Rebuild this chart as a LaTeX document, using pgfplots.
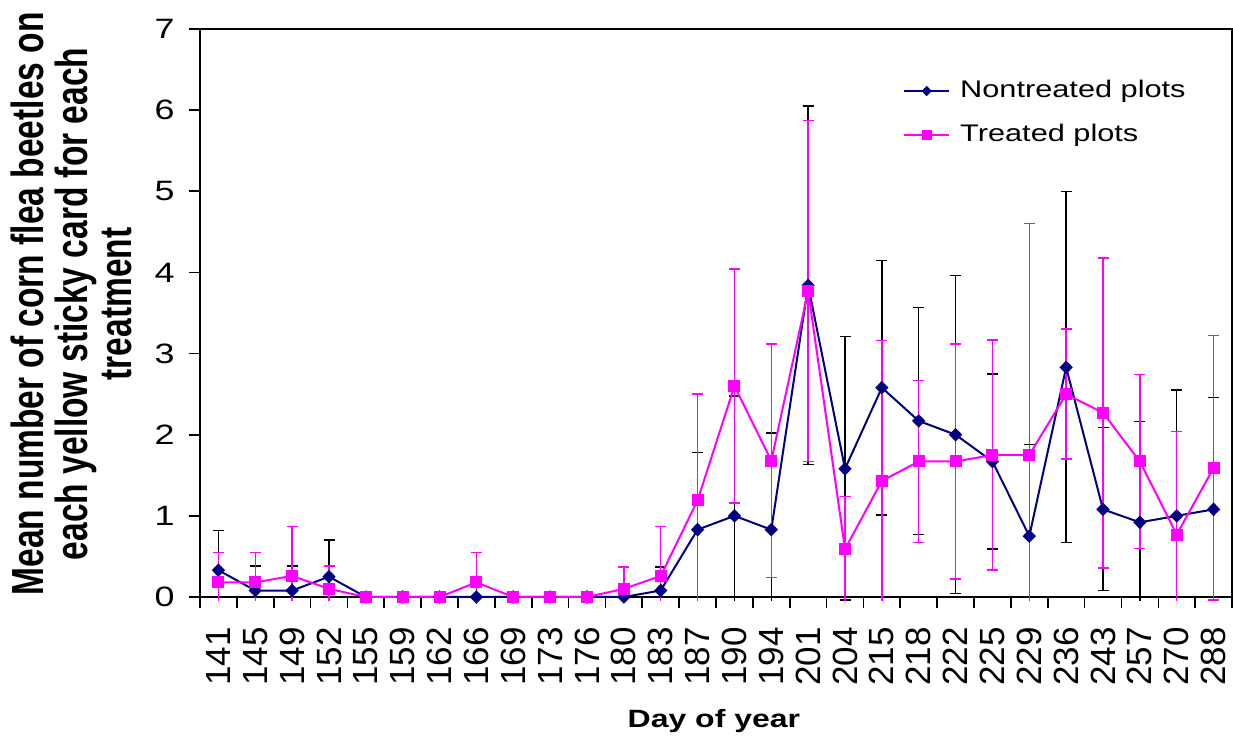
\documentclass[border=0pt]{standalone}
\usepackage{fontspec}
\setmainfont{Liberation Sans}
% wide face for horizontal text, narrow face for text turned on its side
\newfontfamily\hfont{Liberation Sans}[FakeStretch=1.28]
\newfontfamily\vfont{Liberation Sans}[FakeStretch=0.745]
\usepackage{pgfplots}
\usepackage{pgfplotstable}
\pgfplotsset{compat=1.18}

\definecolor{navyline}{RGB}{0,0,128}
\definecolor{magline}{RGB}{255,0,255}

% x = category index (day of year), y = mean, ep = error bar up,
% em = error bar down (with cap), ec = error bar down cut at the axis (no cap)
\pgfplotstableread{
x  y     ep    em    ec
0  0.33  0.49  0     0.38
1  0.08  0.30  0     0.13
2  0.08  0.30  0     0.13
3  0.25  0.45  0     0.30
4  0     0     0     0
5  0     0     0     0
6  0     0     0     0
7  0     0     0     0
8  0     0     0     0
9  0     0     0     0
10 0     0     0     0
11 0     0     0     0
12 0.08  0.29  0     0.13
13 0.83  0.95  0     0.88
14 1.00  1.48  0     1.05
15 0.83  1.19  0     0.88
16 3.84  2.21  2.21  0
17 1.58  1.63  1.62  0
18 2.58  1.57  1.57  0
19 2.17  1.40  1.40  0
20 2.00  1.96  1.96  0
21 1.67  1.08  1.08  0
22 0.75  1.13  0     0.80
23 2.83  2.17  2.16  0
24 1.08  1.01  1.00  0
25 0.92  1.24  0     0.97
26 1.00  1.55  0     1.05
27 1.08  1.38  0     1.13
}\nontreated

\pgfplotstableread{
x  y     ep    em    ec
0  0.18  0.37  0     0.23
1  0.18  0.37  0     0.23
2  0.26  0.61  0     0.31
3  0.10  0.28  0     0.15
4  0     0     0     0
5  0     0     0     0
6  0     0     0     0
7  0.18  0.37  0     0.23
8  0     0     0     0
9  0     0     0     0
10 0     0     0     0
11 0.10  0.27  0     0.15
12 0.26  0.61  0     0.31
13 1.19  1.31  0     1.24
14 2.60  1.44  1.44  0
15 1.68  1.44  1.44  0
16 3.77  2.10  2.10  0
17 0.59  0.65  0     0.64
18 1.43  1.73  0     1.48
19 1.67  1.00  1.00  0
20 1.67  1.45  1.45  0
21 1.75  1.42  1.42  0
22 1.75  2.85  0     1.80
23 2.50  0.80  0.80  0
24 2.27  1.91  1.91  0
25 1.67  1.07  1.07  0
26 0.77  1.27  0     0.82
27 1.59  1.63  1.63  0
}\treated

\begin{document}
\begin{tikzpicture}
\begin{axis}[
  name=ax,
  scale only axis,
  width=516pt, height=284pt,
  xmin=-0.5, xmax=27.5,
  ymin=0, ymax=7,
  clip=false,
  axis line style={line width=1pt},
  tick align=outside,
  xtick pos=bottom, ytick pos=left,
  major tick length=5.5pt,
  tick style={line width=0.8pt, black},
  xtick={-0.5,0.5,...,27.5},
  xticklabels={},
  extra x ticks={0,...,27},
  extra x tick labels={141,145,149,152,155,159,162,166,169,173,176,180,183,187,190,194,201,204,215,218,222,225,229,236,243,257,270,288},
  extra x tick style={major tick length=0pt,
    xticklabel style={yshift=-15pt, rotate=90, anchor=east, inner sep=0pt,
      font=\fontsize{17.5}{20}\selectfont}},
  ytick={0,...,7},
  yticklabel style={xshift=-7pt, font=\hfont\fontsize{14}{16}\selectfont, inner sep=0pt},
  /pgf/number format/assume math mode=true,
  every axis y label/.style={at={(axis description cs:-0.184,0.516)},
    rotate=90, anchor=north, inner sep=0pt, align=center,
    font=\vfont\bfseries\fontsize{22.5}{22}\selectfont},
  ylabel={Mean number of corn flea beetles on\\each yellow sticky card for each\\treatment},
  every axis x label/.style={at={(axis description cs:0.498,-0.229)},
    anchor=base, inner sep=0pt,
    font=\hfont\bfseries\fontsize{12.5}{15}\selectfont},
  xlabel={Day of year},
  legend style={at={(axis description cs:0.681,0.852)}, anchor=west,
    draw=none, fill=none, inner sep=0pt, row sep=11pt, column sep=5pt,
    font=\hfont\fontsize{12}{14}\selectfont,
    nodes={inner sep=0pt, text height=8.6pt, text depth=2.4pt}},
  legend cell align=left,
  legend image code/.code={
    \draw[#1, mark size=1.9pt, mark repeat=2, mark phase=2]
      plot coordinates {(0pt,0pt) (11.25pt,0pt) (22.5pt,0pt)};},
]

% lower error bars that run past the axis: drawn without a cap
\addplot[forget plot, draw=none, mark=none,
  error bars/.cd, y dir=minus, y explicit, error mark=none,
  error bar style={black, line width=0.75pt}]
  table[x=x, y=y, y error minus=ec] {\nontreated};

\addplot[navyline, line width=1pt, mark=diamond*, mark size=2.7pt,
  mark options={xscale=1.3, solid},
  error bars/.cd, y dir=both, y explicit,
  error bar style={black, line width=0.75pt},
  error mark options={rotate=90, mark size=2.75pt, black, line width=0.75pt}]
  table[x=x, y=y, y error plus=ep, y error minus=em] {\nontreated};
\addlegendentry{Nontreated plots}

\addplot[forget plot, draw=none, mark=none,
  error bars/.cd, y dir=minus, y explicit, error mark=none,
  error bar style={magline, line width=0.75pt}]
  table[x=x, y=y, y error minus=ec] {\treated};

\addplot[magline, line width=1pt, mark=square*, mark size=2.5pt,
  mark options={solid},
  error bars/.cd, y dir=both, y explicit,
  error bar style={magline, line width=0.75pt},
  error mark options={rotate=90, mark size=2.75pt, magline, line width=0.75pt}]
  table[x=x, y=y, y error plus=ep, y error minus=em] {\treated};
\addlegendentry{Treated plots}

\end{axis}
\pgfresetboundingbox
\path[use as bounding box] ([xshift=-100pt,yshift=-71.5pt]ax.south west)
  rectangle ([xshift=0.5pt,yshift=14.5pt]ax.north east);
\end{tikzpicture}
\end{document}
